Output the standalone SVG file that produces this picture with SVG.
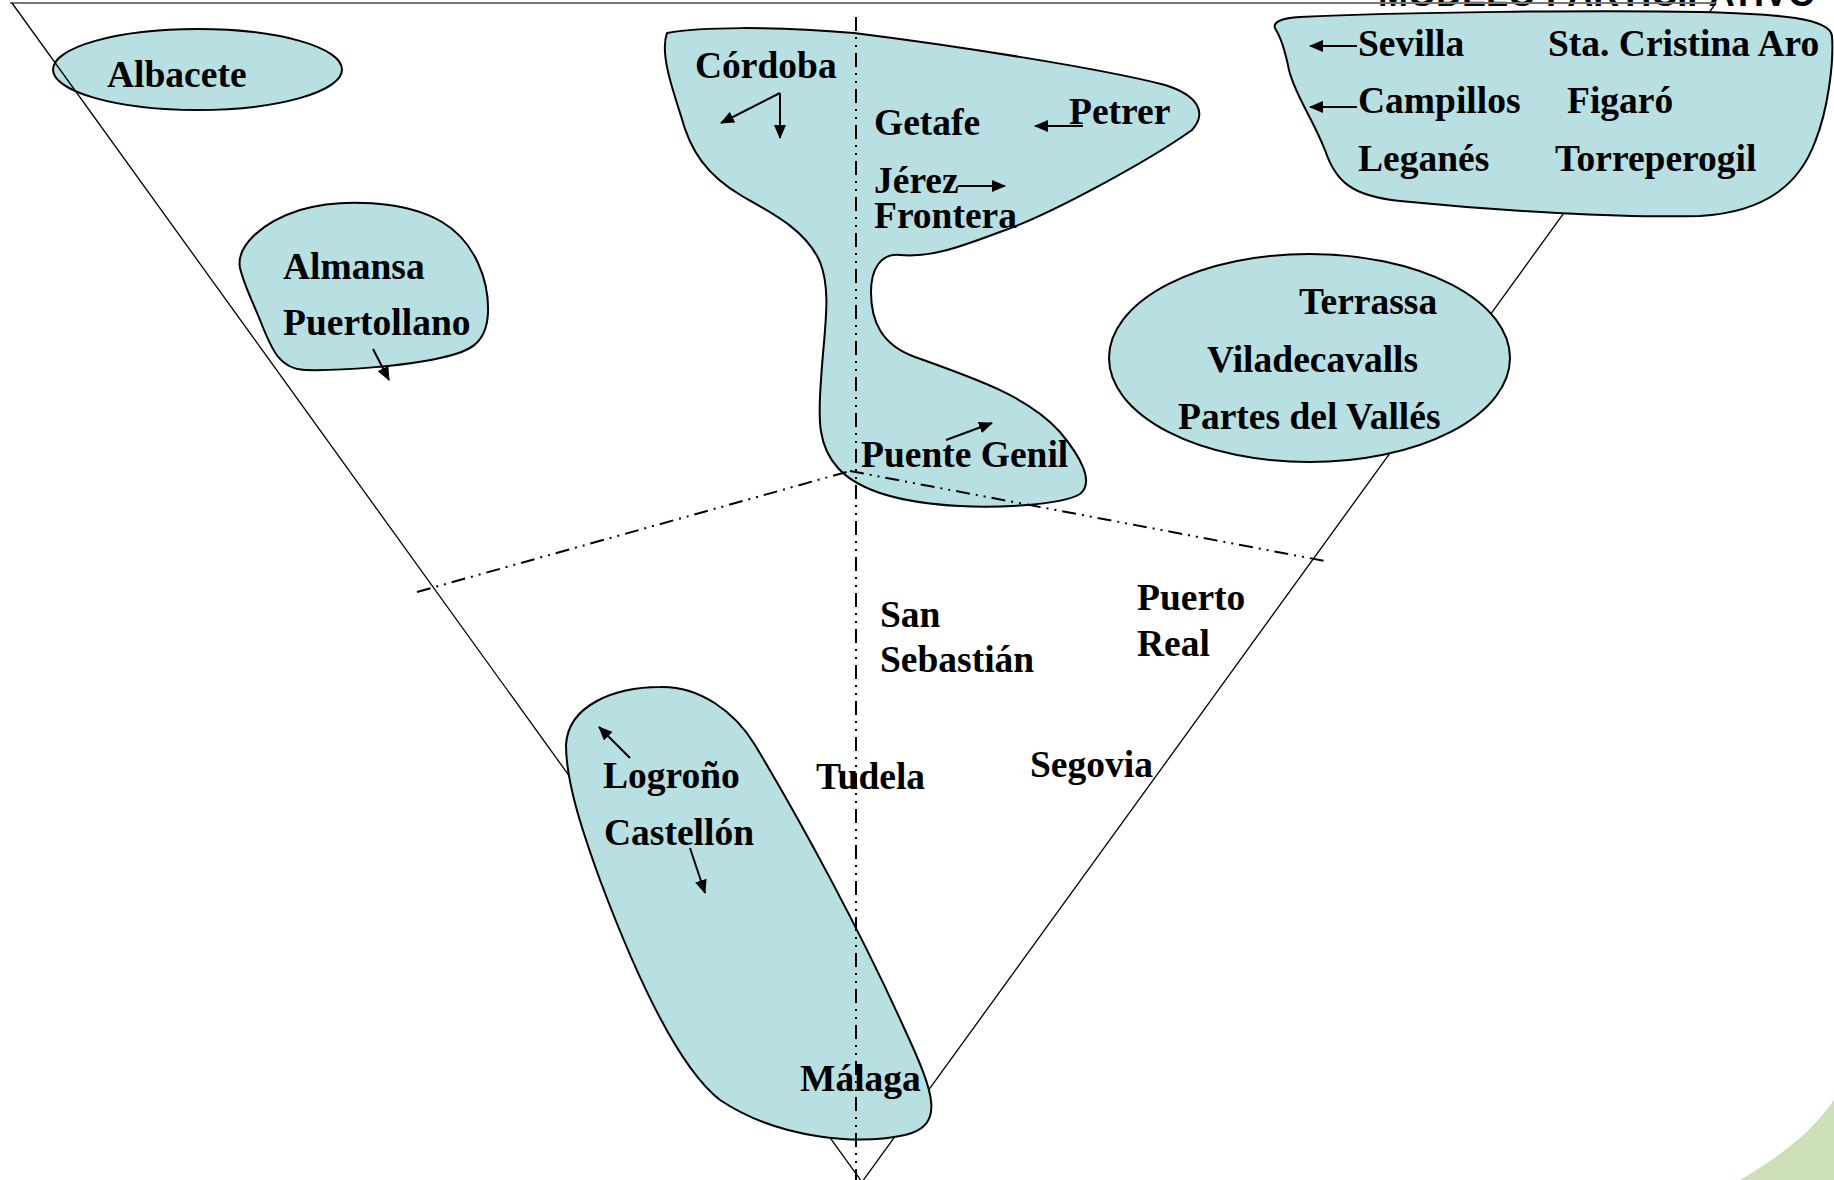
<svg xmlns="http://www.w3.org/2000/svg" width="1834" height="1180" viewBox="0 0 1834 1180">
<defs>
<marker id="ah" markerWidth="14" markerHeight="12" refX="13" refY="6" orient="auto" markerUnits="userSpaceOnUse">
<path d="M0,0 L14,6 L0,12 Z" fill="#000"/>
</marker>
<style>
.blob{fill:#b8dfe2;stroke:#000;stroke-width:2}
.t{font-family:"Liberation Serif","Times New Roman",serif;font-weight:bold;font-size:37.5px;fill:#000}
.tri{stroke:#000;stroke-width:1.3;fill:none}
.dd{stroke:#000;stroke-width:2;fill:none;stroke-dasharray:14 6 2 6 2 6}
.arr{stroke:#000;stroke-width:2;fill:none;marker-end:url(#ah)}
</style>
</defs>
<rect width="1834" height="1180" fill="#fff"/>
<path d="M1740,1180 C1770,1162 1808,1138 1834,1100 L1834,1180 Z" fill="#cddfb9"/>
<text x="1378" y="6" font-family="Liberation Sans, Arial, sans-serif" font-weight="bold" font-size="36" fill="#000">MODELO PARTICIPATIVO</text>

<g id="albacete">
<ellipse class="blob" cx="197.5" cy="69.5" rx="144.5" ry="40.5"/>
<text class="t" x="107" y="87">Albacete</text>
</g>
<g id="almansa">
<path class="blob" d="M240,268 C236,246 262,222 300,210 C340,198 405,200 442,222 C476,242 489,282 488,312 C487,345 468,352 440,358 C405,366 340,371 305,370 C280,369 272,350 262,325 C252,300 244,285 240,268 Z"/>
<text class="t" x="283" y="279">Almansa</text>
<text class="t" x="283" y="335">Puertollano</text>
</g>

<g id="connectors">
<line x1="10" y1="3" x2="1716" y2="3" stroke="#777" stroke-width="2"/>
<path class="tri" d="M12,3 L862,1182 L1716,3"/>
<line class="arr" x1="373" y1="349" x2="389" y2="380"/>
</g>

<g id="cordoba">
<path class="blob" d="M667,33 C700,27 770,26 854,33 C950,45 1100,68 1165,85 C1197,95 1208,112 1192,130 C1150,160 1050,215 1000,232 C960,247 930,258 900,255 C880,253 871,270 871,292 C871,322 882,345 915,357 C980,380 1030,398 1060,432 C1080,456 1095,482 1080,494 C1060,506 990,508 960,506 C900,503 858,490 838,468 C818,446 818,420 821,380 C824,330 832,292 820,262 C806,230 772,213 742,196 C706,175 690,150 681,116 C671,85 660,52 667,33 Z"/>
<text class="t" x="695" y="78">Córdoba</text>
<text class="t" x="874" y="135">Getafe</text>
<text class="t" x="1069" y="124">Petrer</text>
<text class="t" x="874" y="193">Jérez</text>
<text class="t" x="874" y="228">Frontera</text>
<text class="t" x="861" y="467">Puente Genil</text>
</g>

<g id="sevilla">
<path class="blob" d="M1276,30 C1270,21 1285,18 1300,17 C1400,12 1600,10 1700,12 C1780,14 1830,18 1832,36 C1834,62 1828,110 1815,142 C1800,182 1768,212 1700,216 C1620,218 1500,211 1400,201 C1350,196 1335,180 1325,150 C1311,115 1295,95 1289,70 C1285,50 1281,38 1276,30 Z"/>
<text class="t" x="1358" y="56">Sevilla</text>
<text class="t" x="1548" y="56">Sta. Cristina Aro</text>
<text class="t" x="1358" y="113">Campillos</text>
<text class="t" x="1567" y="113">Figaró</text>
<text class="t" x="1358" y="171">Leganés</text>
<text class="t" x="1555" y="171">Torreperogil</text>
</g>

<g id="terrassa">
<ellipse class="blob" cx="1309.5" cy="358" rx="200.5" ry="104"/>
<text class="t" x="1299" y="314">Terrassa</text>
<text class="t" x="1207" y="372">Viladecavalls</text>
<text class="t" x="1178" y="429">Partes del Vallés</text>
</g>

<g id="logrono">
<path class="blob" d="M660,687 C700,686 735,712 755,745 C800,820 860,930 905,1030 C935,1095 945,1125 905,1135 C860,1145 780,1140 720,1100 C675,1065 630,960 600,880 C580,825 566,780 566,745 C568,705 615,687 660,687 Z"/>
<text class="t" x="603" y="788">Logroño</text>
<text class="t" x="604" y="845">Castellón</text>
<text class="t" x="800" y="1091">Málaga</text>
</g>

<g id="sansebastian"><text class="t" x="880" y="627">San</text><text class="t" x="880" y="672">Sebastián</text></g>
<g id="puertoreal"><text class="t" x="1137" y="610">Puerto</text><text class="t" x="1137" y="656">Real</text></g>
<g id="tudela"><text class="t" x="816" y="789">Tudela</text></g>
<g id="segovia"><text class="t" x="1030" y="777">Segovia</text></g>

<g id="arrows">
<line class="arr" x1="780" y1="93" x2="721" y2="123"/>
<line class="arr" x1="780" y1="93" x2="780" y2="138"/>
<line class="arr" x1="1083" y1="126" x2="1035" y2="126"/>
<line class="arr" x1="958" y1="186" x2="1005" y2="186"/>
<line class="arr" x1="946" y1="440" x2="992" y2="423"/>
<line class="arr" x1="1357" y1="46" x2="1310" y2="46"/>
<line class="arr" x1="1357" y1="107" x2="1310" y2="107"/>
<line class="arr" x1="630" y1="758" x2="599" y2="727"/>
<line class="arr" x1="690" y1="848" x2="705" y2="893"/>
</g>

<g id="axes">
<line class="dd" x1="856" y1="17" x2="856" y2="1180"/>
<line class="dd" x1="417" y1="592" x2="850" y2="471"/>
<line class="dd" x1="850" y1="471" x2="1325" y2="561"/>
</g>
</svg>
